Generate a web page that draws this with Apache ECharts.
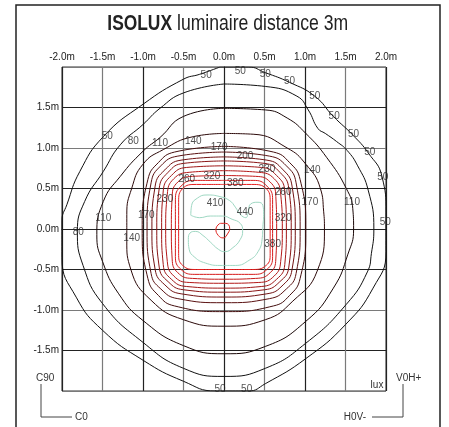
<!DOCTYPE html>
<html>
<head>
<meta charset="utf-8">
<script src="https://cdn.jsdelivr.net/npm/echarts@6.0.0/dist/echarts.min.js"></script>
<style>
  html, body { margin: 0; padding: 0; background: #fff; }
  #chart { width: 449px; height: 427px; }
</style>
</head>
<body>
<div id="chart"></div>
<script>
// tick values (metres) shared by both axes
const ticks = [-2.0, -1.5, -1.0, -0.5, 0.0, 0.5, 1.0, 1.5, 2.0]

// isolux levels, outer to inner
const levels = [50, 80, 110, 140, 170, 200, 230, 260, 290, 320, 350, 380, 410]

// contour lines, [x m, y m]
const iso50 = [[-0.05,2.0],[0.3,2.0],[0.51,1.93],[0.81,1.81],[1.12,1.64],[1.35,1.39],[1.59,1.16],[1.78,0.94],[1.95,0.65],[2.0,0.2],[2.0,-0.28],[1.84,-0.73],[1.5,-1.18],[1.01,-1.6],[0.51,-1.91],[0.3,-2.0],[-0.1,-2.0],[-0.5,-1.88],[-1.0,-1.62],[-1.5,-1.25],[-1.82,-0.85],[-2.0,-0.35],[-2.0,0.1],[-1.94,0.3],[-1.78,0.71],[-1.49,1.14],[-1.0,1.54],[-0.5,1.85],[-0.3,1.91],[-0.05,2.0]]
const iso80 = [[0,1.79],[0.51,1.76],[0.9,1.64],[1.04,1.47],[1.16,1.24],[1.25,1.18],[1.39,1.08],[1.52,0.97],[1.65,0.78],[1.78,0.48],[1.85,0.0],[1.82,-0.3],[1.77,-0.53],[1.51,-0.93],[1.01,-1.41],[0.51,-1.72],[0,-1.82],[-0.5,-1.72],[-1.0,-1.4],[-1.5,-0.92],[-1.74,-0.45],[-1.81,-0.03],[-1.72,0.34],[-1.49,0.71],[-1.28,1.04],[-1.0,1.29],[-0.79,1.49],[-0.5,1.68],[0,1.79]]
const iso110 = [[0,1.49],[0.51,1.47],[0.78,1.37],[1.01,1.18],[1.27,0.88],[1.51,0.5],[1.59,0.25],[1.6,0.0],[1.53,-0.31],[1.35,-0.73],[1.01,-1.14],[0.51,-1.45],[0,-1.54],[-0.5,-1.44],[-1.0,-1.13],[-1.3,-0.8],[-1.5,-0.4],[-1.57,-0.07],[-1.49,0.34],[-1.28,0.65],[-1.0,0.96],[-0.79,1.13],[-0.5,1.39],[0,1.49]]
const iso140 = [[0,1.18],[0.36,1.17],[0.78,1.0],[1.01,0.8],[1.19,0.5],[1.23,0.22],[1.24,0.0],[1.15,-0.52],[0.85,-0.89],[0.51,-1.12],[0,-1.2],[-0.5,-1.12],[-0.9,-0.88],[-1.15,-0.5],[-1.2,-0.15],[-1.2,0.18],[-1.14,0.5],[-1.0,0.8],[-0.75,0.98],[-0.38,1.14],[0,1.18]]
const iso170 = [[0,1.02],[0.61,0.95],[0.81,0.82],[0.94,0.61],[1.01,0],[0.94,-0.61],[0.81,-0.82],[0.61,-0.95],[0,-1.02],[-0.61,-0.95],[-0.81,-0.82],[-0.94,-0.61],[-1.01,0],[-0.94,0.61],[-0.81,0.82],[-0.61,0.95],[0,1.02]]
const iso200 = [[0,0.95],[0.56,0.9],[0.77,0.78],[0.89,0.57],[0.94,0],[0.89,-0.55],[0.77,-0.74],[0.56,-0.86],[0,-0.91],[-0.57,-0.86],[-0.78,-0.74],[-0.9,-0.55],[-0.95,0],[-0.9,0.57],[-0.78,0.78],[-0.57,0.9],[0,0.95]]
const iso230 = [[0,0.89],[0.53,0.85],[0.73,0.73],[0.84,0.53],[0.88,0],[0.84,-0.5],[0.73,-0.69],[0.53,-0.8],[0,-0.84],[-0.53,-0.8],[-0.73,-0.69],[-0.85,-0.5],[-0.89,0],[-0.85,0.53],[-0.73,0.73],[-0.53,0.85],[0,0.89]]
const iso260 = [[0,0.84],[0.5,0.81],[0.69,0.7],[0.8,0.5],[0.83,0],[0.8,-0.47],[0.69,-0.65],[0.5,-0.75],[0,-0.78],[-0.5,-0.75],[-0.69,-0.65],[-0.8,-0.47],[-0.83,0],[-0.8,0.5],[-0.69,0.7],[-0.5,0.81],[0,0.84]]
const iso290 = [[0,0.78],[0.46,0.76],[0.65,0.66],[0.75,0.47],[0.77,0],[0.75,-0.44],[0.65,-0.62],[0.46,-0.71],[0,-0.73],[-0.46,-0.71],[-0.65,-0.62],[-0.75,-0.44],[-0.77,0],[-0.75,0.47],[-0.65,0.66],[-0.46,0.76],[0,0.78]]
const iso320 = [[0,0.72],[0.43,0.7],[0.62,0.62],[0.7,0.43],[0.72,0],[0.7,-0.4],[0.62,-0.58],[0.43,-0.66],[0,-0.67],[-0.43,-0.66],[-0.62,-0.58],[-0.7,-0.4],[-0.72,0],[-0.7,0.43],[-0.62,0.62],[-0.43,0.7],[0,0.72]]
const iso350 = [[0,0.66],[0.39,0.65],[0.57,0.58],[0.64,0.4],[0.65,0],[0.64,-0.37],[0.57,-0.54],[0.39,-0.61],[0,-0.62],[-0.39,-0.61],[-0.57,-0.54],[-0.64,-0.37],[-0.65,0],[-0.64,0.4],[-0.57,0.58],[-0.39,0.65],[0,0.66]]
const iso380 = [[0,0.6],[0.36,0.6],[0.53,0.53],[0.6,0.36],[0.6,0],[0.6,-0.34],[0.53,-0.5],[0.36,-0.56],[0,-0.56],[-0.36,-0.56],[-0.53,-0.5],[-0.6,-0.34],[-0.6,0],[-0.6,0.36],[-0.53,0.53],[-0.36,0.6],[0,0.6]]
const iso410 = [[0,0.55],[0.34,0.55],[0.52,0.5],[0.57,0.33],[0.57,0],[0.57,-0.3],[0.52,-0.45],[0.34,-0.5],[0,-0.5],[-0.34,-0.5],[-0.51,-0.45],[-0.56,-0.3],[-0.56,0],[-0.56,0.33],[-0.51,0.5],[-0.34,0.55],[0,0.55]]
// light green line around the plateau and the small peak loop
const isoTeal = [[-0.41,0.17],[-0.4,0.29],[-0.33,0.38],[-0.21,0.42],[-0.05,0.4],[0.07,0.35],[0.14,0.27],[0.2,0.18],[0.27,0.14],[0.3,0.22],[0.33,0.31],[0.42,0.33],[0.48,0.29],[0.49,0.18],[0.48,0.03],[0.47,-0.13],[0.42,-0.28],[0.32,-0.38],[0.14,-0.45],[-0.05,-0.45],[-0.23,-0.42],[-0.36,-0.35],[-0.43,-0.25],[-0.44,-0.13],[-0.42,-0.05],[-0.35,-0.03],[-0.26,-0.08],[-0.17,-0.16],[-0.07,-0.25],[0.01,-0.28],[0.11,-0.23],[0.2,-0.13],[0.23,-0.02],[0.2,0.07],[0.1,0.12],[-0.02,0.16],[-0.17,0.16],[-0.3,0.14],[-0.41,0.17]]
const isoPeak = [[-0.05,0.07],[0.02,0.07],[0.07,0.01],[0.05,-0.05],[-0.01,-0.11],[-0.07,-0.08],[-0.1,0.0],[-0.05,0.07]]

// contour value labels: [text, x m, y m]
const contourLabels = [
  ['50',-0.22,1.9],['50',0.2,1.95],['50',0.51,1.91],['50',0.81,1.83],['50',1.12,1.64],
  ['50',1.36,1.39],['50',1.6,1.17],['50',1.8,0.95],['50',1.96,0.64],['50',1.99,0.08],
  ['50',-1.44,1.15],['80',-1.12,1.08],['110',-0.79,1.06],['140',-0.38,1.08],['170',-0.06,1.01],
  ['200',0.26,0.9],['230',0.53,0.74],['140',1.09,0.73],['260',-0.46,0.61],['320',-0.15,0.65],
  ['380',0.14,0.56],['260',0.73,0.45],['170',1.06,0.33],['110',1.58,0.33],['410',-0.11,0.32],
  ['440',0.26,0.21],['230',-0.73,0.37],['170',-0.96,0.17],['110',-1.49,0.13],['80',-1.8,-0.04],
  ['140',-1.14,-0.12],['320',0.73,0.13],['380',0.6,-0.19],['50',-0.05,-1.98],['50',0.28,-1.98]
]

const contours = [iso50, iso80, iso110, iso140, iso170, iso200, iso230, iso260, iso290, iso320, iso350, iso380, iso410]
const lineColors = ['#111111', '#111111', '#1a0808', '#2c0a0a', '#430e0e', '#5a1111', '#721313', '#8a1515', '#a01717', '#b41919', '#c61b1b', '#d71c1c', '#e41e1e']

const sans = "'Liberation Sans', Arial, Helvetica, sans-serif"

const chart = echarts.init(document.getElementById('chart'), null, { renderer: 'canvas' })

const series = contours.map((pts, i) => ({
  type: 'line',
  name: String(levels[i]),
  data: pts,
  smooth: 0.5,
  symbol: 'none',
  silent: true,
  z: 2,
  lineStyle: { color: lineColors[i], width: 1 }
}))

series.push({
  type: 'line', name: 'plateau', data: isoTeal, smooth: 0.5, symbol: 'none', silent: true, z: 2,
  lineStyle: { color: '#9fd8c3', width: 1 }
})
series.push({
  type: 'line', name: 'peak', data: isoPeak, smooth: 0.5, symbol: 'none', silent: true, z: 2,
  lineStyle: { color: '#e0241f', width: 1 }
})

// labels sit on top of the lines
series.push({
  type: 'scatter',
  symbolSize: 0,
  clip: false,
  silent: true,
  z: 5,
  data: contourLabels.map(([t, x, y]) => ({ name: t, value: [x, y] })),
  label: {
    show: true, position: 'inside', formatter: '{b}',
    fontSize: 10, color: '#262626', fontFamily: sans
  }
})

const fmt = v => v.toFixed(1) + 'm'

chart.setOption({
  animation: false,
  backgroundColor: '#fff',
  grid: { left: 62, top: 67, width: 324, height: 324, show: true, borderColor: '#333', borderWidth: 1, outerBoundsMode: 'none' },
  xAxis: {
    type: 'value', position: 'top', min: ticks[0], max: ticks[ticks.length - 1], interval: 0.5,
    axisLine: { show: true, lineStyle: { color: '#222', width: 1 } },
    axisTick: { show: false },
    axisLabel: { formatter: fmt, margin: 5, fontSize: 10, color: '#222', fontFamily: sans },
    splitLine: { show: true, lineStyle: { color: ['#222', '#7a7a7a'], width: 1.2 } }
  },
  yAxis: {
    type: 'value', min: ticks[0], max: ticks[ticks.length - 1], interval: 0.5,
    axisLine: { show: true, lineStyle: { color: '#222', width: 1 } },
    axisTick: { show: false },
    axisLabel: {
      formatter: v => (Math.abs(v) === 2 ? '' : fmt(v)),
      margin: 3, fontSize: 10, color: '#222', fontFamily: sans
    },
    splitLine: { show: true, lineStyle: { color: ['#7a7a7a', '#222'], width: 1.2 } }
  },
  series,
  graphic: [
    { type: 'rect', silent: true, shape: { x: 16, y: 5, width: 424, height: 440 },
      style: { fill: 'none', stroke: '#222', lineWidth: 1.5 } },
    // condensed title: regular sans squeezed horizontally
    { type: 'text', silent: true, x: 172, y: 24, scaleX: 0.79,
      style: { text: 'ISOLUX', font: 'bold 22px ' + sans, fill: '#222', align: 'right', verticalAlign: 'middle' } },
    { type: 'text', silent: true, x: 177, y: 24, scaleX: 0.8,
      style: { text: 'luminaire distance 3m', font: '22px ' + sans, fill: '#222', align: 'left', verticalAlign: 'middle' } },
    { type: 'text', silent: true, x: 36, y: 378,
      style: { text: 'C90', font: '10px ' + sans, fill: '#333', align: 'left', verticalAlign: 'middle' } },
    { type: 'polyline', silent: true, shape: { points: [[41, 384], [41, 417], [72, 417]] },
      style: { stroke: '#444', lineWidth: 1, fill: 'none' } },
    { type: 'text', silent: true, x: 75, y: 417,
      style: { text: 'C0', font: '10px ' + sans, fill: '#333', align: 'left', verticalAlign: 'middle' } },
    { type: 'text', silent: true, x: 396, y: 378,
      style: { text: 'V0H+', font: '10px ' + sans, fill: '#333', align: 'left', verticalAlign: 'middle' } },
    { type: 'polyline', silent: true, shape: { points: [[403, 384], [403, 417], [372, 417]] },
      style: { stroke: '#444', lineWidth: 1, fill: 'none' } },
    { type: 'text', silent: true, x: 366, y: 417,
      style: { text: 'H0V-', font: '10px ' + sans, fill: '#333', align: 'right', verticalAlign: 'middle' } },
    { type: 'text', silent: true, x: 377, y: 385,
      style: { text: 'lux', font: '10px ' + sans, fill: '#333', align: 'center', verticalAlign: 'middle' } }
  ]
})
</script>
</body>
</html>
